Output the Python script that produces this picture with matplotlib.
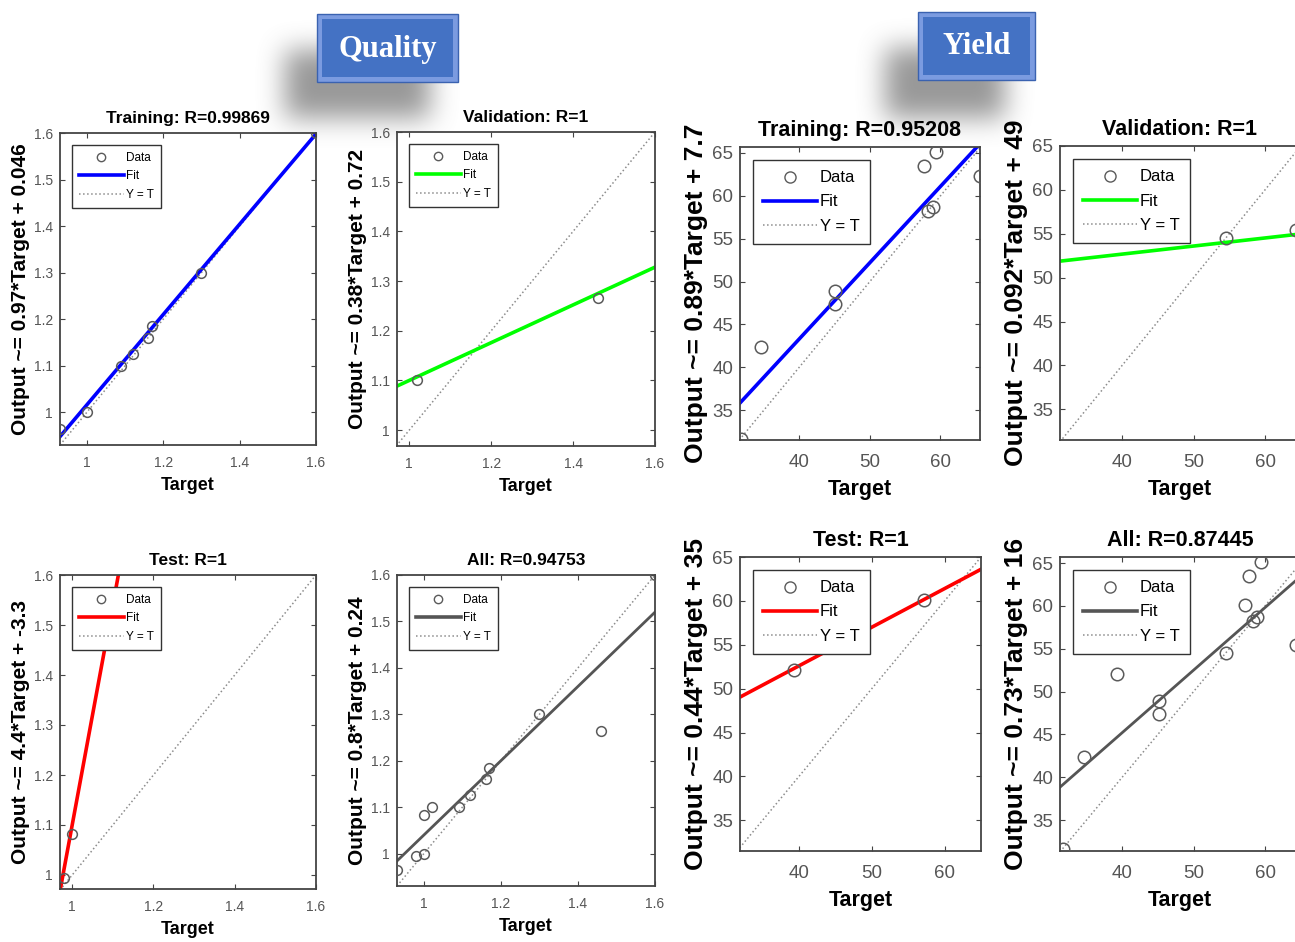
import numpy as np
import matplotlib
matplotlib.use('Agg')
import matplotlib.pyplot as plt
from matplotlib.patches import Rectangle
from matplotlib.ticker import FuncFormatter
from matplotlib.lines import Line2D

plt.rcParams['font.family'] = ['Liberation Sans', 'DejaVu Sans']

# ---------------- data ----------------
# Quality network
q_train_t = [0.93, 1.00, 1.09, 1.12, 1.16, 1.17, 1.30, 1.60]
q_train_y = [0.965, 1.00, 1.10, 1.125, 1.16, 1.185, 1.30, 1.60]
q_val_t = [1.02, 1.46]
q_val_y = [1.10, 1.265]
q_test_t = [0.98, 1.00]
q_test_y = [0.995, 1.083]
q_all_t = q_train_t + q_val_t + q_test_t
q_all_y = q_train_y + q_val_y + q_test_y

# Yield network
y_train_t = [31.7, 34.6, 45.1, 45.1, 57.7, 59.4, 58.3, 58.9, 65.6]
y_train_y = [31.6, 42.4, 48.9, 47.4, 63.5, 65.1, 58.2, 58.7, 62.3]
y_val_t = [54.5, 64.4]
y_val_y = [54.5, 55.4]
y_test_t = [39.3, 57.2]
y_test_y = [52.1, 60.1]
y_all_t = y_train_t + y_val_t + y_test_t
y_all_y = y_train_y + y_val_y + y_test_y

# fit coefficients (slope, intercept) and R values as printed
q_fits = [(0.97, 0.046), (0.38, 0.72), (4.4, -3.3), (0.8, 0.24)]
q_fit_txt = ["0.97", "0.046", "0.38", "0.72", "4.4", "-3.3", "0.8", "0.24"]
q_R = ["0.99869", "1", "1", "0.94753"]
y_fits = [(0.89, 7.7), (0.092, 49), (0.44, 35), (0.73, 16)]
y_fit_txt = ["0.89", "7.7", "0.092", "49", "0.44", "35", "0.73", "16"]
y_R = ["0.95208", "1", "1", "0.87445"]

names = ["Training", "Validation", "Test", "All"]
fit_colors = ['#0000ff', '#00ff00', '#ff0000', '#555555']

q_ticks_x = [1, 1.2, 1.4, 1.6]
q_ticks_y = [1, 1.1, 1.2, 1.3, 1.4, 1.5, 1.6]
y_ticks_x = [40, 50, 60]
y_ticks_y = [35, 40, 45, 50, 55, 60, 65]

W, H = 1295, 942
fig = plt.figure(figsize=(W / 100, H / 100), dpi=100)


def frac(x0, y0, x1, y1):
    return [x0 / W, 1 - y1 / H, (x1 - x0) / W, (y1 - y0) / H]


# ---------------- badge shadows (blurred) ----------------
bg = fig.add_axes([0, 0, 1, 1], zorder=-5)
bg.set_axis_off()
mask = np.zeros((H, W))
mask[50:118, 285:430] = 1.0
mask[48:118, 885:1005] = 1.0
for _ in range(3):
    k = 25
    ker = np.ones(k) / k
    mask = np.apply_along_axis(lambda r: np.convolve(r, ker, mode='same'), 1, mask)
    mask = np.apply_along_axis(lambda c: np.convolve(c, ker, mode='same'), 0, mask)
rgba = np.zeros((H, W, 4))
rgba[..., :3] = 0.5
rgba[..., 3] = np.clip(mask * 0.8, 0, 1)
bg.imshow(rgba, extent=[0, W, H, 0], aspect='auto', interpolation='bilinear')
bg.set_xlim(0, W)
bg.set_ylim(H, 0)


def badge(x0, y0, x1, y1, text):
    bg.add_patch(Rectangle((x0, y0), x1 - x0, y1 - y0, facecolor='#7b9be0',
                           edgecolor='#3a62b0', lw=1, zorder=3))
    bg.add_patch(Rectangle((x0 + 5, y0 + 5), x1 - x0 - 10, y1 - y0 - 10,
                           facecolor='#4472c4', edgecolor='none', zorder=4))
    bg.text((x0 + x1) / 2, (y0 + y1) / 2 + 1, text, color='white', ha='center',
            va='center', fontsize=22, fontweight='bold',
            family=['Liberation Serif', 'DejaVu Serif'], zorder=5)


badge(317, 14, 458, 82, "Quality")
badge(918, 12, 1035, 80, "Yield")


def panel(box, t, y, fit, stxt, itxt, rtxt, name, color, xlim, ylim,
          xt, yt, small):
    ax = fig.add_axes(frac(*box))
    if small:
        fs_t, fs_y, fs_x, fs_k, fs_l, ms, hl = 12.5, 15, 13, 10, 8.5, 7, 3.8
        tpad, kpad, lpad, bap = 7, 8, 5, 1.0
    else:
        fs_t, fs_y, fs_x, fs_k, fs_l, ms, hl = 15.5, 19, 15.5, 13.5, 12, 9, 3.2
        tpad, kpad, lpad, bap = 8, 10, 6, 0.8
    lo, hi = min(xlim[0], ylim[0]), max(xlim[1], ylim[1])
    ax.plot([lo, hi], [lo, hi], ':', color='#8c8c8c', lw=1.1, zorder=1)
    xs = np.array([xlim[0], xlim[1] + 5])
    ax.plot(xs, fit[0] * xs + fit[1], '-', color=color,
            lw=2.6 if color != '#555555' else 2.0, zorder=2)
    ax.plot(t, y, 'o', mfc='none', mec='#5a5a5a', ms=ms, mew=1.1, zorder=3)
    ax.set_xlim(*xlim)
    ax.set_ylim(*ylim)
    ax.set_xticks(xt)
    ax.set_yticks(yt)
    fmt = FuncFormatter(lambda v, p: '%g' % v)
    ax.xaxis.set_major_formatter(fmt)
    ax.yaxis.set_major_formatter(fmt)
    ax.tick_params(direction='in', top=True, right=True, length=3.5,
                   labelsize=fs_k, labelcolor='#555555', color='#444444')
    ax.tick_params(axis='x', pad=kpad)
    ax.tick_params(axis='y', pad=5)
    for s in ax.spines.values():
        s.set_color('#444444')
        s.set_linewidth(1.3)
    ax.set_title(f"{name}: R={rtxt}", fontsize=fs_t, fontweight='bold',
                 pad=tpad)
    ax.set_xlabel("Target", fontsize=fs_x, fontweight='bold', labelpad=lpad)
    ax.set_ylabel(f"Output ~= {stxt}*Target + {itxt}", fontsize=fs_y,
                  fontweight='bold', labelpad=3)
    handles = [Line2D([], [], ls='none', marker='o', mfc='none', mec='#5a5a5a',
                      ms=ms - 1),
               Line2D([], [], color=color, lw=2.6),
               Line2D([], [], color='#8c8c8c', ls=':', lw=1.1)]
    leg = ax.legend(handles, ["Data", "Fit", "Y = T"], loc='upper left',
                    frameon=True, fancybox=False, fontsize=fs_l,
                    edgecolor='#333333', framealpha=1, handlelength=hl,
                    borderaxespad=bap, labelspacing=0.55, handletextpad=0.2,
                    borderpad=0.6)
    leg.get_frame().set_linewidth(1.0)
    return ax


q_boxes = [(60, 133, 316, 445), (397, 132, 655, 446),
           (60, 575, 316, 889), (397, 575, 655, 886)]
q_lims = [((0.93, 1.6), (0.93, 1.6)), ((0.97, 1.6), (0.968, 1.6)),
          ((0.97, 1.6), (0.972, 1.6)), ((0.93, 1.6), (0.93, 1.6))]
q_sets = [(q_train_t, q_train_y), (q_val_t, q_val_y),
          (q_test_t, q_test_y), (q_all_t, q_all_y)]

y_boxes = [(740, 147, 980, 440), (1060, 146, 1300, 440),
           (740, 557, 981, 851), (1060, 557, 1300, 851)]
y_lims = [((31.6, 65.6), (31.5, 65.7)), ((31.3, 64.9), (31.5, 64.9)),
          ((31.9, 65.0), (31.5, 64.75)), ((31.3, 64.9), (31.4, 65.7))]
y_sets = [(y_train_t, y_train_y), (y_val_t, y_val_y),
          (y_test_t, y_test_y), (y_all_t, y_all_y)]

for i in range(4):
    panel(q_boxes[i], q_sets[i][0], q_sets[i][1], q_fits[i],
          q_fit_txt[2 * i], q_fit_txt[2 * i + 1], q_R[i], names[i],
          fit_colors[i], q_lims[i][0], q_lims[i][1], q_ticks_x, q_ticks_y, True)
    panel(y_boxes[i], y_sets[i][0], y_sets[i][1], y_fits[i],
          y_fit_txt[2 * i], y_fit_txt[2 * i + 1], y_R[i], names[i],
          fit_colors[i], y_lims[i][0], y_lims[i][1], y_ticks_x, y_ticks_y, False)

fig.savefig("out.png", dpi=100)
